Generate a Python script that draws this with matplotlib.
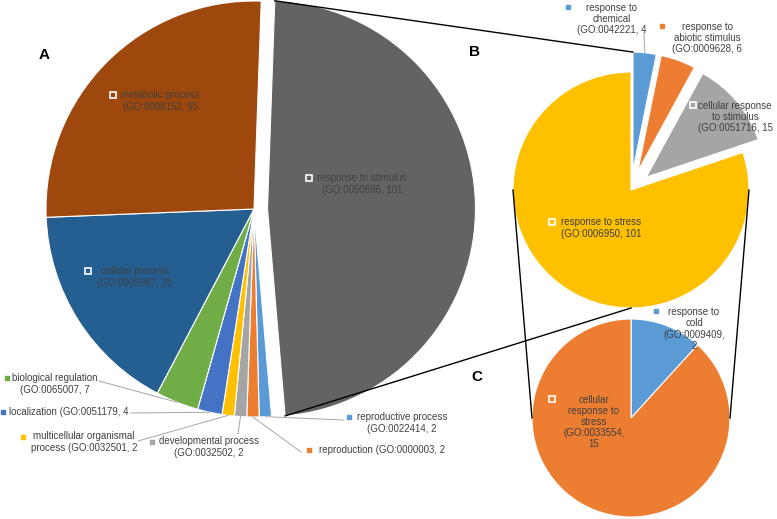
import textwrap
import numpy as np
import matplotlib.pyplot as plt

plt.rcParams['font.family'] = ['Liberation Sans', 'DejaVu Sans']

W, H = 777, 519

# A: GO biological process (clockwise from 12 o'clock)
a_names = ['response to stimulus', 'reproductive process', 'reproduction',
           'developmental process', 'multicellular organismal process',
           'localization', 'biological regulation', 'cellular process',
           'metabolic process']
a_go = ['0050896', '0022414', '0000003', '0032502', '0032501',
        '0051179', '0065007', '0009987', '0008152']
a_counts = [101, 2, 2, 2, 2, 4, 7, 35, 55]
a_colors = ['#636363', '#5B9BD5', '#ED7D31', '#A5A5A5', '#FFC000',
            '#4472C4', '#70AD47', '#255E91', '#9E480E']

# B: children of response to stimulus
b_names = ['response to chemical', 'response to abiotic stimulus',
           'cellular response to stimulus', 'response to stress']
b_go = ['0042221', '0009628', '0051716', '0006950']
b_counts = [4, 6, 15, 101]
b_colors = ['#5B9BD5', '#ED7D31', '#A5A5A5', '#FFC000']

# C: children of response to stress
c_names = ['response to cold', 'cellular response to stress']
c_go = ['0009409', '0033554']
c_counts = [2, 15]
c_colors = ['#5B9BD5', '#ED7D31']

# label layout in pixels: wrap width, text centre, marker, leader anchor, inside
a_lab = [(20, (362, 184), (309, 178), None, True),
         (20, (402, 423), (349, 417), (344, 420), False),
         (30, (382, 450), (309, 450), (301, 452), False),
         (21, (209, 447), (152, 442), (238, 434), False),
         (25, (84, 442), (23, 437), (138, 441), False),
         (30, (69, 412), (3, 412), (131, 413), False),
         (21, (55, 384), (7, 378), (99, 381), False),
         (16, (135, 277), (88, 271), None, True),
         (17, (160, 101), (113, 95), None, True)]
b_lab = [(14, (612, 19), (568, 7), (644, 32), False),
         (16, (707, 38), (662, 26), None, False),
         (17, (735, 117), (693, 105), None, True),
         (18, (601, 228), (552, 222), None, True)]
c_lab = [(12, (694, 329), (656, 311), None, False),
         (12, (594, 422), (552, 399), None, True)]

TXT = '#404040'

fig = plt.figure(figsize=(W / 100, H / 100), dpi=100)
ax = fig.add_axes([0, 0, 1, 1])


def draw_pie(counts, colors, cx, cy, r, start, explode):
    wedges, _ = ax.pie(counts, colors=colors, startangle=start,
                       counterclock=False, center=(cx, H - cy), radius=r,
                       explode=explode,
                       wedgeprops=dict(linewidth=0.8, edgecolor='white'))
    return wedges


def arc_pt(w, ang):
    a = np.deg2rad(ang)
    return w.center[0] + w.r * np.cos(a), w.center[1] + w.r * np.sin(a)


def put_labels(wedges, names, gos, counts, colors, layout):
    for w, nm, go, n, col, lay in zip(wedges, names, gos, counts, colors, layout):
        width, (tx, ty), (mx, my), anchor, inside = lay
        s = textwrap.fill(f'{nm} (GO:{go}, {n}', width=width)
        ax.text(tx, H - ty, s, ha='center', va='center', fontsize=7,
                color=TXT, linespacing=1.15, multialignment='center')
        if inside:
            ax.plot(mx, H - my, 's', ms=5, mfc=col, mec='white', mew=1.2)
        else:
            ax.plot(mx, H - my, 's', ms=3.5, mfc=col, mec=col)
        if anchor is not None:
            ex, ey = arc_pt(w, 0.5 * (w.theta1 + w.theta2))
            ax.plot([anchor[0], ex], [H - anchor[1], ey], color='#A6A6A6',
                    lw=0.7)


wa = draw_pie(a_counts, a_colors, 254, 209, 208, 88,
              [13.5] + [0] * (len(a_counts) - 1))
wb = draw_pie(b_counts, b_colors, 631, 190, 118, 90, [20, 20, 20, 0])
wc = draw_pie(c_counts, c_colors, 631, 418, 99, 90, None)

put_labels(wa, a_names, a_go, a_counts, a_colors, a_lab)
put_labels(wb, b_names, b_go, b_counts, b_colors, b_lab)
put_labels(wc, c_names, c_go, c_counts, c_colors, c_lab)

# connector lines A -> B
p1 = arc_pt(wa[0], wa[0].theta2)
q1 = arc_pt(wb[0], wb[0].theta2)
p2 = arc_pt(wa[0], wa[0].theta1)
q2 = arc_pt(wb[-1], 270)
ax.plot([p1[0], q1[0]], [p1[1], q1[1]], color='black', lw=1)
ax.plot([p2[0], q2[0]], [p2[1], q2[1]], color='black', lw=1)

# connector lines B -> C
for side in (180, 0):
    pb = arc_pt(wb[-1], side)
    pc = arc_pt(wc[-1], side) if side == 180 else arc_pt(wc[-1], 0)
    ax.plot([pb[0], pc[0]], [pb[1], pc[1]], color='black', lw=1)

for letter, (x, y) in zip('ABC', [(44, 55), (475, 52), (477, 377)]):
    ax.text(x, H - y, letter, ha='center', va='center', fontsize=11,
            fontweight='bold', color='black')

ax.set_xlim(0, W)
ax.set_ylim(0, H)
ax.set_aspect('equal')
ax.axis('off')

fig.savefig('out.png', dpi=100)
